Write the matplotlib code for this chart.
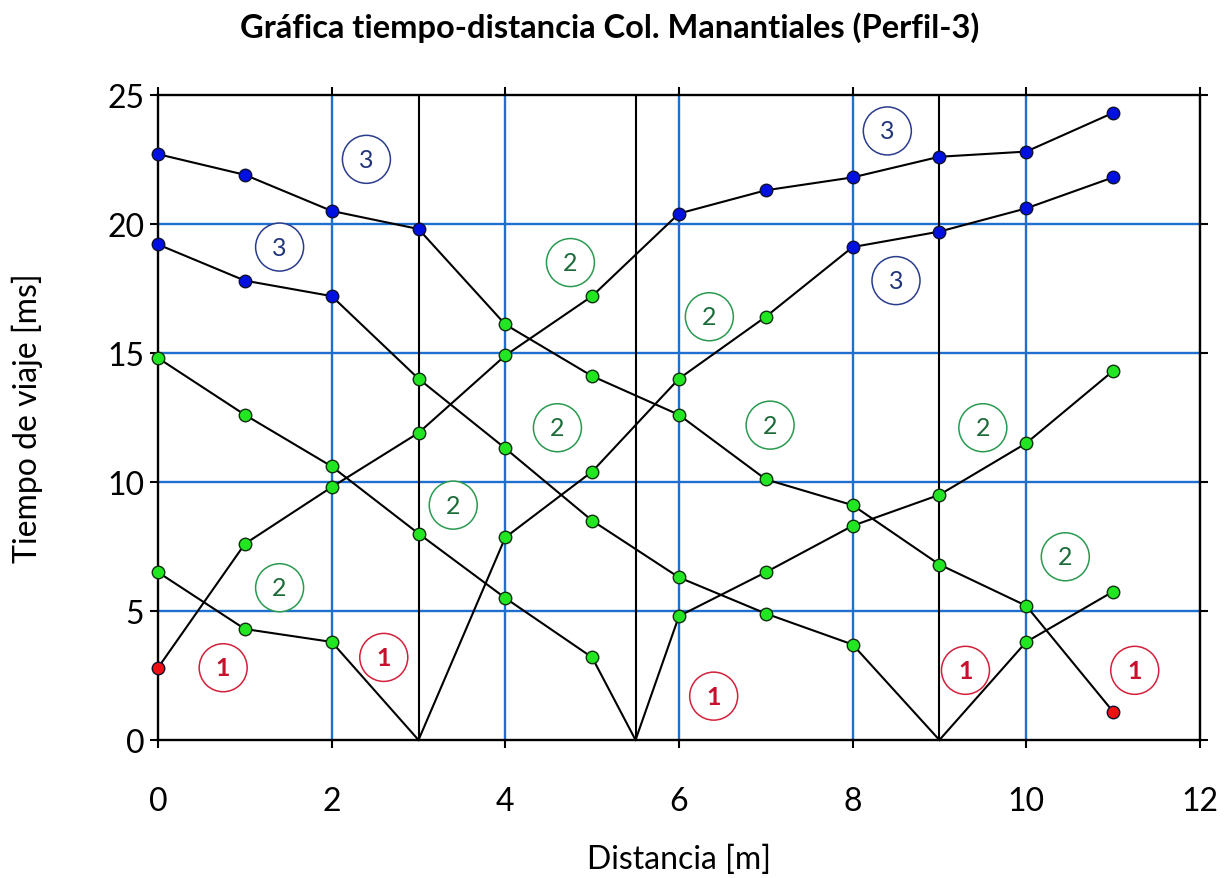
import matplotlib
matplotlib.use("Agg")
import matplotlib.pyplot as plt

# ---- data ----
# shot at x=11 (going left)
s11_x = [0, 1, 2, 3, 4, 5, 6, 7, 8, 9, 10, 11]
s11_t = [22.7, 21.9, 20.5, 19.8, 16.1, 14.1, 12.6, 10.1, 9.1, 6.8, 5.2, 1.1]
s11_c = ['b', 'b', 'b', 'b', 'g', 'g', 'g', 'g', 'g', 'g', 'g', 'r']

# shot at x=0 (going right)
s0_x = [0, 1, 2, 3, 4, 5, 6, 7, 8, 9, 10, 11]
s0_t = [2.8, 7.6, 9.8, 11.9, 14.9, 17.2, 20.4, 21.3, 21.8, 22.6, 22.8, 24.3]
s0_c = ['r', 'g', 'g', 'g', 'g', 'g', 'b', 'b', 'b', 'b', 'b', 'b']

# shot at x=9
s9L_x = [0, 1, 2, 3, 4, 5, 6, 7, 8, 9]
s9L_t = [19.2, 17.8, 17.2, 14.0, 11.3, 8.5, 6.3, 4.9, 3.7, 0]
s9L_c = ['b', 'b', 'b', 'g', 'g', 'g', 'g', 'g', 'g', None]
s9R_x = [9, 10, 11]
s9R_t = [0, 3.8, 5.75]
s9R_c = [None, 'g', 'g']

# shot at x=5.5
s55L_x = [0, 1, 2, 3, 4, 5, 5.5]
s55L_t = [14.8, 12.6, 10.6, 8.0, 5.5, 3.2, 0]
s55L_c = ['g', 'g', 'g', 'g', 'g', 'g', None]
s55R_x = [5.5, 6, 7, 8, 9, 10, 11]
s55R_t = [0, 4.8, 6.5, 8.3, 9.5, 11.5, 14.3]
s55R_c = [None, 'g', 'g', 'g', 'g', 'g', 'g']

# shot at x=3
s3L_x = [0, 1, 2, 3]
s3L_t = [6.5, 4.3, 3.8, 0]
s3L_c = ['g', 'g', 'g', None]
s3R_x = [3, 4, 5, 6, 7, 8, 9, 10, 11]
s3R_t = [0, 7.85, 10.4, 14.0, 16.4, 19.1, 19.7, 20.6, 21.8]
s3R_c = [None, 'g', 'g', 'g', 'g', 'b', 'b', 'b', 'b']

# layer labels: (x, t, text)
label_x = [2.4, 1.4, 8.4, 8.5, 4.75, 6.35, 4.6, 7.05, 9.5, 3.4, 1.4, 10.45, 0.75, 2.6, 6.4, 9.3, 11.25]
label_t = [22.5, 19.1, 23.6, 17.8, 18.5, 16.4, 12.1, 12.2, 12.1, 9.1, 5.9, 7.1, 2.8, 3.2, 1.7, 2.7, 2.7]
label_txt = ['3', '3', '3', '3', '2', '2', '2', '2', '2', '2', '2', '2', '1', '1', '1', '1', '1']

shot_x = [3, 5.5, 9, 12]
blue_x = [2, 4, 6, 8, 10]
blue_y = [5, 10, 15, 20]

title = "Gráfica tiempo-distancia Col. Manantiales (Perfil-3)"
xlabel = "Distancia [m]"
ylabel = "Tiempo de viaje [ms]"

# ---- style ----
plt.rcParams['font.family'] = ['Lato', 'DejaVu Sans']
cmap = {'b': '#0010e0', 'g': '#22e622', 'r': '#ee1111'}
lab_col = {'1': '#d4203a', '2': '#2a9a50', '3': '#2a3c8c'}
txt_col = {'1': '#c8102e', '2': '#1e6b3a', '3': '#22357a'}

fig = plt.figure(figsize=(12.3, 8.79), dpi=100)
ax = fig.add_axes([0.1285, 0.157, 0.847, 0.734])
ax.set_xlim(0, 12)
ax.set_ylim(0, 25)

for v in blue_x:
    ax.axvline(v, color='#1f6fd0', lw=1.7, zorder=1)
for h in blue_y:
    ax.axhline(h, color='#1f6fd0', lw=1.7, zorder=1)
for v in shot_x:
    ax.axvline(v, color='black', lw=1.5, zorder=1)

for xs, ts, cs in [(s11_x, s11_t, s11_c), (s0_x, s0_t, s0_c),
                   (s9L_x, s9L_t, s9L_c), (s9R_x, s9R_t, s9R_c),
                   (s55L_x, s55L_t, s55L_c), (s55R_x, s55R_t, s55R_c),
                   (s3L_x, s3L_t, s3L_c), (s3R_x, s3R_t, s3R_c)]:
    ax.plot(xs, ts, color='black', lw=1.5, zorder=2, clip_on=False)
    for xi, ti, ci in zip(xs, ts, cs):
        if ci is None:
            continue
        ax.plot(xi, ti, 'o', ms=9, mfc=cmap[ci], mec='#103010' if ci == 'g' else '#101030',
                mew=1.0, zorder=3, clip_on=False)

for xi, ti, tx in zip(label_x, label_t, label_txt):
    ax.text(xi, ti, tx, ha='center', va='center', fontsize=18,
            color=txt_col[tx], fontweight='bold' if tx == '1' else 'normal',
            bbox=dict(boxstyle='circle,pad=0.5', fc='white', ec=lab_col[tx], lw=1.1),
            zorder=4)

for s in ax.spines.values():
    s.set_linewidth(1.7)
    s.set_color('black')

ax.set_xticks([0, 2, 4, 6, 8, 10, 12])
ax.set_yticks([0, 5, 10, 15, 20, 25])
ax.tick_params(direction='out', length=6, width=1.5, labelsize=23,
               top=True, right=True)
ax.tick_params(axis='x', pad=27)
ax.tick_params(axis='y', pad=4)
ax.set_xlabel(xlabel, fontsize=23, labelpad=20)
ax.set_ylabel(ylabel, fontsize=23, labelpad=46)
fig.text(0.496, 0.969, title, ha='center', va='center', fontsize=23.5, fontweight='bold')

fig.savefig('out.png', dpi=100)
